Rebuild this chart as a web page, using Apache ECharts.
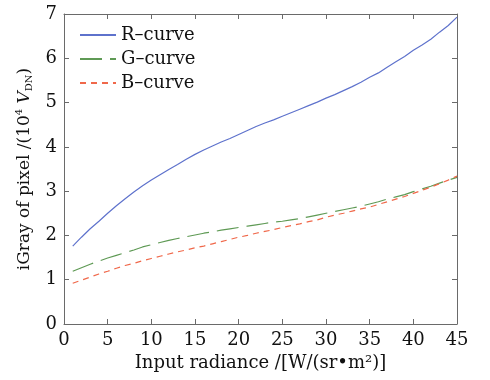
<!DOCTYPE html>
<html><head><meta charset="utf-8">
<script src="https://cdn.jsdelivr.net/npm/echarts@6/dist/echarts.min.js"></script>
<style>html,body{margin:0;padding:0;background:#fff}#c{width:490px;height:380px}</style>
</head><body><div id="c"></div>
<script>
var radiance = [1,2,3,4,5,6,7,8,9,10,11,12,13,14,15,16,17,18,19,20,21,22,23,24,25,26,27,28,29,30,31,32,33,34,35,36,37,38,39,40,41,42,43,44,45];
var rCurve = [1.76,1.96,2.15,2.32,2.50,2.67,2.83,2.98,3.12,3.25,3.37,3.49,3.60,3.72,3.83,3.93,4.02,4.11,4.19,4.28,4.37,4.46,4.54,4.61,4.69,4.77,4.85,4.93,5.01,5.10,5.18,5.27,5.36,5.46,5.57,5.67,5.80,5.92,6.04,6.18,6.30,6.43,6.59,6.74,6.93];
var gCurve = [1.19,1.27,1.35,1.42,1.49,1.55,1.61,1.67,1.74,1.79,1.84,1.89,1.93,1.97,2.01,2.05,2.08,2.12,2.15,2.18,2.21,2.24,2.27,2.30,2.32,2.35,2.38,2.42,2.46,2.50,2.54,2.58,2.62,2.66,2.71,2.76,2.82,2.87,2.92,2.99,3.05,3.11,3.18,3.25,3.31];
var bCurve = [0.92,0.99,1.06,1.13,1.19,1.26,1.32,1.37,1.43,1.48,1.53,1.58,1.63,1.67,1.72,1.76,1.81,1.86,1.91,1.96,2.00,2.05,2.09,2.13,2.18,2.22,2.26,2.31,2.35,2.41,2.46,2.50,2.55,2.60,2.64,2.70,2.76,2.82,2.88,2.95,3.02,3.09,3.17,3.25,3.34];
var seriesNames = ['R\u2013curve','G\u2013curve','B\u2013curve'];
var xTicks = [0,5,10,15,20,25,30,35,40,45];
var yTicks = [0,1,2,3,4,5,6,7];

function pairs(ys){ return radiance.map(function(x,i){ return [x, ys[i]]; }); }
var FONT = 'DejaVu Serif';
var axisCol = '#6a6a6a';
var chart = echarts.init(document.getElementById('c'), null, {renderer:'canvas'});
var baseX = {type:'value', min:xTicks[0], max:xTicks[xTicks.length-1], interval:5,
  axisLine:{show:true,onZero:false,lineStyle:{color:axisCol,width:1}},
  axisTick:{show:true,inside:true,length:5,lineStyle:{color:axisCol}},
  splitLine:{show:false}};
var baseY = {type:'value', min:yTicks[0], max:yTicks[yTicks.length-1], interval:1,
  axisLine:{show:true,onZero:false,lineStyle:{color:axisCol,width:1}},
  axisTick:{show:true,inside:true,length:5,lineStyle:{color:axisCol}},
  splitLine:{show:false}};
chart.setOption({
  backgroundColor:'#fff',
  animation:false,
  grid:{left:64,right:33,top:14,bottom:56,containLabel:false},
  legend:{orient:'vertical', left:74, top:21, itemWidth:36, itemHeight:10, itemGap:6,
    itemStyle:{opacity:0},
    textStyle:{fontFamily:FONT,fontSize:18,color:'#111'},
    data:seriesNames},
  xAxis:[
    Object.assign({}, baseX, {position:'bottom',
      axisLabel:{show:true,margin:7,fontFamily:FONT,fontSize:18,color:'#111'},
      name:'Input radiance /[W/(sr\u2022m\u00b2)]', nameLocation:'middle', nameGap:28,
      nameTextStyle:{fontFamily:FONT,fontSize:18,color:'#111'}}),
    Object.assign({}, baseX, {position:'top', axisLabel:{show:false}})
  ],
  yAxis:[
    Object.assign({}, baseY, {position:'left',
      axisLabel:{show:true,margin:7,fontFamily:FONT,fontSize:18,color:'#111'},
      name:'{a|iGray of pixel /(10}{sup|4}{a| }{i|V}{sub|DN}{a|)}', nameLocation:'middle', nameGap:25,
      nameTextStyle:{fontFamily:FONT,fontSize:17,color:'#111',
        rich:{a:{fontFamily:FONT,fontSize:17,color:'#111'},
              sup:{fontFamily:FONT,fontSize:10,color:'#111',padding:[0,0,10,0]},
              i:{fontFamily:FONT,fontSize:17,fontStyle:'italic',color:'#111'},
              sub:{fontFamily:FONT,fontSize:10,color:'#111',padding:[10,0,0,0]}}}}),
    Object.assign({}, baseY, {position:'right', axisLabel:{show:false}})
  ],
  series:[
    {name:seriesNames[0], type:'line', data:pairs(rCurve), symbol:'none', smooth:false,
      lineStyle:{color:'#5e72cc',width:1.2}, itemStyle:{color:'#5e72cc'}},
    {name:seriesNames[1], type:'line', data:pairs(gCurve), symbol:'none',
      lineStyle:{color:'#5f9a55',width:1.2,type:[22,8]}, itemStyle:{color:'#5f9a55'}},
    {name:seriesNames[2], type:'line', data:pairs(bCurve), symbol:'none',
      lineStyle:{color:'#f0684a',width:1.2,type:[6,5]}, itemStyle:{color:'#f0684a'}}
  ]
});
</script></body></html>
